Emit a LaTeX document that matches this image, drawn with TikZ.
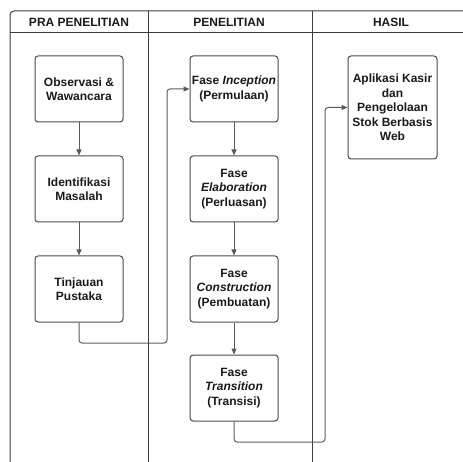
\documentclass[tikz,border=0pt]{standalone}
\usepackage{fontspec}
\setmainfont{Liberation Sans}
\usetikzlibrary{arrows.meta}
\definecolor{framec}{HTML}{3C3C3C}
\definecolor{boxc}{HTML}{4A4A4A}
\definecolor{arrc}{HTML}{5A5A5A}
\definecolor{txtc}{HTML}{1A1A1A}
\tikzset{
  stepbox/.style={draw=boxc, line width=1pt, rounded corners=3pt, fill=white,
    minimum width=88pt, minimum height=66pt, inner sep=1pt, align=center,
    text=txtc, font=\fontsize{12}{14.5}\selectfont\bfseries},
  hdr/.style={text=txtc, font=\fontsize{12}{14.5}\selectfont\bfseries, inner sep=0pt},
  frameline/.style={draw=framec, line width=1pt},
  conn/.style={draw=arrc, line width=1pt, rounded corners=3pt, -{Triangle[length=6pt,width=5pt]}}
}
\begin{document}
\begin{tikzpicture}[x=1pt,y=-1pt]
\useasboundingbox (0,0) rectangle (463,462);
% frame
\draw[frameline, rounded corners=4pt] (10,470) -- (10,11) -- (475,11);
\draw[frameline] (10,33) -- (475,33);
\draw[frameline] (148,11) -- (148,470);
\draw[frameline] (312,11) -- (312,470);
% headers
\node[hdr] (h1) at (79,22) {PRA PENELITIAN};
\node[hdr] (h2) at (229,22) {PENELITIAN};
\node[hdr] (h3) at (391,22) {HASIL};
% boxes
\node[stepbox] (obs) at (79,89) {Observasi \&\\Wawancara};
\node[stepbox] (iden) at (79,189) {Identifikasi\\Masalah};
\node[stepbox] (tin) at (79,289) {Tinjauan\\Pustaka};
\node[stepbox] (inc) at (234,89) {Fase \textit{Inception}\\(Permulaan)};
\node[stepbox] (ela) at (234,189) {Fase\\\textit{Elaboration}\\(Perluasan)};
\node[stepbox] (con) at (234,289) {Fase\\\textit{Construction}\\(Pembuatan)};
\node[stepbox] (tra) at (234,388) {Fase\\\textit{Transition}\\(Transisi)};
\node[stepbox, minimum width=89pt, minimum height=103pt] (apl) at (392.5,107.5) {Aplikasi Kasir\\dan\\Pengelolaan\\Stok Berbasis\\Web};
% connectors
\draw[conn] (obs) -- (iden);
\draw[conn] (iden) -- (tin);
\draw[conn] (inc) -- (ela);
\draw[conn] (ela) -- (con);
\draw[conn] (con) -- (tra);
\coordinate (k1) at (167,343);
\coordinate (k2) at (325,442);
\draw[conn] (tin.south) |- (k1) |- (inc.west);
\draw[conn] (tra.south) |- (k2) |- (apl.west);
\end{tikzpicture}
\end{document}
